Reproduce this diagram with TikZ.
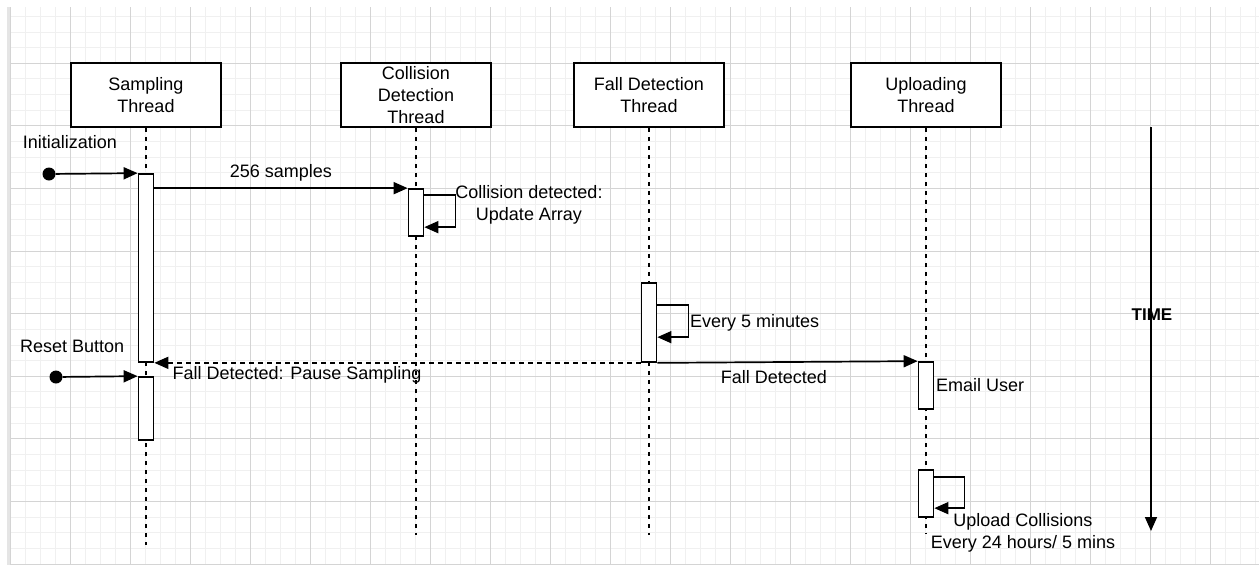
\documentclass[tikz,border=0pt]{standalone}
\usepackage{fontspec}
\setmainfont{Liberation Sans}
\usetikzlibrary{arrows.meta,calc}
\begin{document}
\begin{tikzpicture}[x=1pt,y=-1pt,
  every node/.style={font=\fontsize{18}{22}\selectfont},
  gridminor/.style={line width=1pt,draw=black!6},
  gridmajor/.style={line width=1pt,draw=black!17},
  thread/.style={draw,line width=1.7pt,fill=white,minimum width=150pt,minimum height=64pt,align=center,inner sep=0pt},
  act/.style={draw,line width=1.7pt,fill=white,minimum width=15pt,inner sep=0pt},
  life/.style={line width=1.5pt,dash pattern=on 4.5pt off 4.5pt},
  msg/.style={line width=1.7pt,-{Triangle[length=14pt,width=12pt]}},
  ret/.style={msg,dash pattern=on 5pt off 4pt},
  lbl/.style={inner sep=0pt,align=center},
  startdot/.style={circle,fill=black,minimum size=13pt,inner sep=0pt},
]
% canvas and page grid
\useasboundingbox (0,0) rectangle (1259,565);
\fill[white] (0,0) rectangle (1259,565);
\fill[black!10] (7,7) rectangle (11,565);
\foreach \i in {0,...,83} {\draw[gridminor] (10.7+15*\i,7) -- (10.7+15*\i,565);}
\foreach \k in {0,...,35} {\draw[gridminor] (11,16.35+15.65*\k) -- (1259,16.35+15.65*\k);}
\foreach \i in {0,...,20} {\draw[gridmajor] (10.7+60*\i,7) -- (10.7+60*\i,565);}
\foreach \k in {1,...,9} {\draw[gridmajor] (11,0.7+62.6*\k) -- (1259,0.7+62.6*\k);}

% thread heads
\node[thread] (sam) at (146,95) {Sampling\\Thread};
\node[thread] (col) at (416,95) {Collision\\Detection\\Thread};
\node[thread] (fal) at (649,95) {Fall Detection\\Thread};
\node[thread] (upl) at (926,95) {Uploading\\Thread};

% lifeline ends
\coordinate (samEnd) at (146,545);
\coordinate (colEnd) at (416,535);
\coordinate (falEnd) at (649,535);
\coordinate (uplEnd) at (926,533);
\draw[life] (sam.south) -- (samEnd);
\draw[life] (col.south) -- (colEnd);
\draw[life] (fal.south) -- (falEnd);
\draw[life] (upl.south) -- (uplEnd);

% activations
\node[act,minimum height=188pt] (s1) at (146,268) {};
\node[act,minimum height=63pt] (s2) at (146,408.5) {};
\node[act,minimum height=47pt] (c1) at (416,212.5) {};
\node[act,minimum height=79pt] (f1) at (649,322.5) {};
\node[act,minimum height=47pt] (u1) at (926,385.5) {};
\node[act,minimum height=47pt] (u2) at (926,493.5) {};

% initialization
\node[startdot] (init) at (49,174) {};
\draw[msg] (init) -- (s1.north west);
\node[lbl] (initL) at (70,142) {Initialization};

% sampling to collision detection
\draw[msg] (s1.east |- c1.north) -- (c1.north west);
\node[lbl] (sampL) at (281,173) {256 samples};

% collision self call
\draw[msg] ([yshift=-7pt]c1.north east) -- ++(31,0) -- ++(0,32) -- ++(-31,0);
\node[lbl] (colL) at (529,205) {Collision detected:\\Update Array};

% fall detection self call
\draw[msg] ([yshift=-23pt]f1.north east) -- ++(31,0) -- ++(0,32) -- ++(-31,0);
\node[lbl,anchor=west] (falL) at (690,323) {Every 5 minutes};

% fall detected: back to sampling and on to uploading
\draw[ret] (f1.south west) -- (s1.south east);
\node[lbl] (pauseL) at (297,375) {Fall Detected: Pause Sampling};
\draw[msg] (f1.south east) -- (u1.north west);
\node[lbl] (fallL) at (774,377) {Fall Detected};
\node[lbl,anchor=west] (mailL) at (936,385) {Email User};

% reset
\node[startdot] (reset) at (56,377) {};
\draw[msg] (reset) -- (s2.north west);
\node[lbl,anchor=west] (resetL) at (20,346) {Reset Button};

% upload self call
\draw[msg] ([yshift=-8pt]u2.north east) -- ++(30,0) -- ++(0,31) -- ++(-30,0);
\node[lbl] (uplL) at (1023,533) {Upload Collisions\\Every 24 hours/ 5 mins};

% time axis
\coordinate (t0) at (1151,127);
\coordinate (t1) at (1151,531);
\draw[msg] (t0) -- (t1);
\node[lbl,font=\fontsize{17}{20}\selectfont\bfseries] (timeL) at (1152,315) {TIME};
\end{tikzpicture}
\end{document}
